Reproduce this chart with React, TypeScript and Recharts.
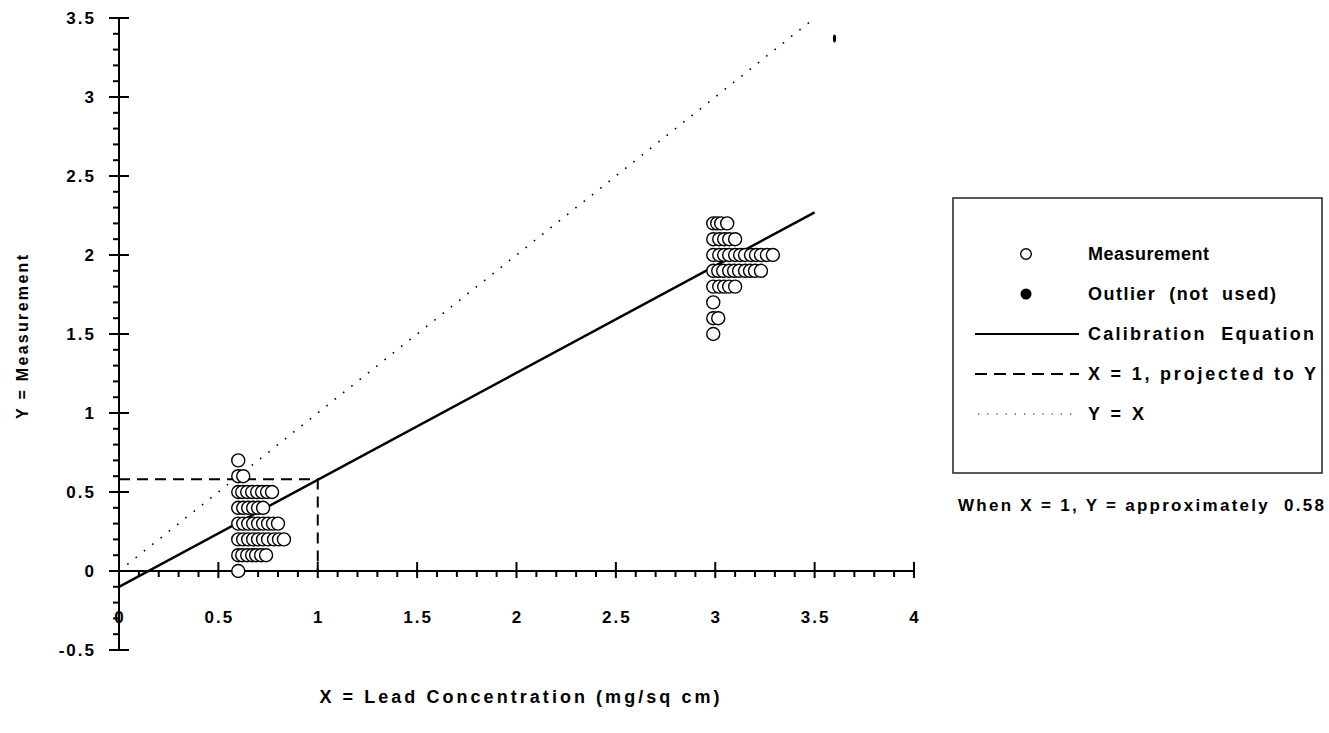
import { ComposedChart, Scatter, Line, XAxis, YAxis, ReferenceLine } from 'recharts';

const xTickLabels = [0, 0.5, 1, 1.5, 2, 2.5, 3, 3.5, 4];
const yTickLabels = [-0.5, 0, 0.5, 1, 1.5, 2, 2.5, 3, 3.5];

// measurement rows around X = 0.6 (each row is one Y level, circles read left to right)
const lowRows = [
  { y: 0, xs: [0.6] },
  { y: 0.1, xs: [0.6, 0.62, 0.645, 0.67, 0.69, 0.715, 0.74] },
  { y: 0.2, xs: [0.6, 0.625, 0.65, 0.675, 0.7, 0.725, 0.75, 0.78, 0.805, 0.83] },
  { y: 0.3, xs: [0.6, 0.625, 0.65, 0.675, 0.7, 0.725, 0.75, 0.775, 0.8] },
  { y: 0.4, xs: [0.6, 0.625, 0.65, 0.675, 0.7, 0.725] },
  { y: 0.5, xs: [0.6, 0.62, 0.645, 0.67, 0.695, 0.72, 0.745, 0.77] },
  { y: 0.6, xs: [0.6, 0.625] },
  { y: 0.7, xs: [0.6] },
];

// measurement rows around X = 3
const highRows = [
  { y: 1.5, xs: [2.99] },
  { y: 1.6, xs: [2.99, 3.015] },
  { y: 1.7, xs: [2.99] },
  { y: 1.8, xs: [2.99, 3.02, 3.045, 3.07, 3.1] },
  { y: 1.9, xs: [2.99, 3.015, 3.04, 3.07, 3.095, 3.12, 3.15, 3.175, 3.2, 3.23] },
  { y: 2.0, xs: [2.99, 3.02, 3.045, 3.07, 3.1, 3.125, 3.15, 3.18, 3.205, 3.23, 3.26, 3.29] },
  { y: 2.1, xs: [2.99, 3.02, 3.045, 3.07, 3.1] },
  { y: 2.2, xs: [2.99, 3.01, 3.03, 3.06] },
];

const outlier = [{ x: 3.6, y: 3.37 }];
const calibration = [{ x: 0, y: -0.1 }, { x: 3.5, y: 2.27 }];
const projection = [{ x: 0, y: 0.58 }, { x: 1, y: 0.58 }, { x: 1, y: 0 }];
const identity = [{ x: 0, y: 0 }, { x: 3.5, y: 3.5 }];

const measurements = [...lowRows, ...highRows].flatMap(r => r.xs.map(x => ({ x, y: r.y })));

const tenths = (from: number, to: number) => {
  const out: number[] = [];
  for (let i = from; i <= to; i++) out.push(i / 10);
  return out;
};
const yTicks = tenths(-5, 35);
const xMinor = tenths(1, 39).filter(v => Math.round(v * 10) % 5 !== 0);
const xMajor = xTickLabels.filter(v => v > 0);

const FONT = '"Liberation Sans", Arial, Helvetica, sans-serif';
const textStyle = { fontFamily: FONT, fontWeight: 700, fontSize: 17, fill: '#000' };

function YTick({ x, y, payload }: any) {
  const v = payload.value;
  const major = Math.abs(v * 2 - Math.round(v * 2)) < 1e-6;
  return (
    <g>
      <line x1={major ? x - 10 : x - 6} x2={major ? x + 10 : x} y1={y} y2={y} stroke="#000" strokeWidth={2} />
      {major && (
        <text x={x - 23} y={y} textAnchor="end" dominantBaseline="central" style={{ ...textStyle, letterSpacing: 2 }}>
          {String(v)}
        </text>
      )}
    </g>
  );
}

function XTick({ x, y, payload }: any) {
  return (
    <text x={x + 1} y={y - 33} textAnchor="middle" dominantBaseline="central" style={{ ...textStyle, letterSpacing: 2 }}>
      {String(payload.value)}
    </text>
  );
}

const OpenCircle = ({ cx, cy }: any) => <circle cx={cx} cy={cy} r={6.5} fill="#fff" stroke="#000" strokeWidth={1.4} />;
const OutlierMark = ({ cx, cy }: any) => <ellipse cx={cx} cy={cy} rx={1.6} ry={4} fill="#000" />;

const legendRows = [
  { label: 'Measurement', kind: 'open', width: 121 },
  { label: 'Outlier  (not  used)', kind: 'filled', width: 188 },
  { label: 'Calibration  Equation', kind: 'solid', width: 226 },
  { label: 'X = 1, projected to Y', kind: 'dashed', width: 228 },
  { label: 'Y = X', kind: 'dotted', width: 56 },
];

function Notes() {
  return (
    <svg width={1329} height={733} style={{ position: 'absolute', left: 0, top: 0, pointerEvents: 'none' }}>
      <rect x={953} y={198} width={369} height={275} fill="none" stroke="#222" strokeWidth={1.5} />
      {legendRows.map((r, i) => {
        const cy = 254 + i * 40;
        return (
          <g key={r.label}>
            {r.kind === 'open' && <circle cx={1026} cy={cy} r={5.3} fill="#fff" stroke="#000" strokeWidth={1.4} />}
            {r.kind === 'filled' && <circle cx={1026} cy={cy} r={5.5} fill="#000" />}
            {r.kind === 'solid' && <line x1={975} x2={1079} y1={cy} y2={cy} stroke="#000" strokeWidth={1.8} />}
            {r.kind === 'dashed' && <line x1={975} x2={1079} y1={cy} y2={cy} stroke="#000" strokeWidth={1.8} strokeDasharray="12 7" />}
            {r.kind === 'dotted' && <line x1={978} x2={1075} y1={cy} y2={cy} stroke="#000" strokeWidth={1} strokeDasharray="1.2 8" />}
            <text
              x={1088}
              y={cy}
              dominantBaseline="central"
              textLength={r.width}
              lengthAdjust="spacing"
              style={{ ...textStyle, fontSize: 18, whiteSpace: 'pre' }}
            >
              {r.label}
            </text>
          </g>
        );
      })}
      <text x={958} y={505} dominantBaseline="central" textLength={366} lengthAdjust="spacing" style={{ ...textStyle, whiteSpace: 'pre' }}>
        When X = 1, Y = approximately  0.58
      </text>
    </svg>
  );
}

export default function App() {
  return (
    <div style={{ position: 'absolute', left: 0, top: 0, width: 1329, height: 733, background: '#fff' }}>
      <ComposedChart width={1329} height={733} margin={{ top: 18, right: 415, bottom: 53, left: 19 }}>
        <XAxis
          type="number"
          dataKey="x"
          domain={[0, 4]}
          ticks={xTickLabels}
          interval={0}
          axisLine={false}
          tickLine={false}
          tickSize={0}
          tickMargin={0}
          height={30}
          tick={<XTick />}
          label={({ viewBox }: any) => (
            <text
              x={viewBox.x + viewBox.width / 2 + 3}
              y={viewBox.y + viewBox.height + 17}
              textAnchor="middle"
              dominantBaseline="central"
              textLength={400}
              lengthAdjust="spacing"
              style={{ ...textStyle, fontSize: 18 }}
            >
              X = Lead Concentration (mg/sq cm)
            </text>
          )}
        />
        <YAxis
          type="number"
          dataKey="y"
          domain={[-0.5, 3.5]}
          ticks={yTicks}
          interval={0}
          width={100}
          axisLine={{ stroke: '#000', strokeWidth: 2 }}
          tickLine={false}
          tickSize={0}
          tickMargin={0}
          tick={<YTick />}
          label={({ viewBox }: any) => (
            <text
              transform={`translate(${viewBox.x + 3},${viewBox.y + viewBox.height / 2 + 3}) rotate(-90)`}
              textAnchor="middle"
              dominantBaseline="central"
              textLength={164}
              lengthAdjust="spacing"
              style={{ ...textStyle, fontSize: 16 }}
            >
              Y = Measurement
            </text>
          )}
        />
        <ReferenceLine y={0} stroke="#000" strokeWidth={2} />
        {xMinor.map(v => (
          <ReferenceLine key={'m' + v} segment={[{ x: v, y: 0 }, { x: v, y: -0.038 }]} stroke="#000" strokeWidth={2} />
        ))}
        {xMajor.map(v => (
          <ReferenceLine key={'M' + v} segment={[{ x: v, y: 0.057 }, { x: v, y: -0.045 }]} stroke="#000" strokeWidth={2} />
        ))}
        <Scatter name="Measurement" data={measurements} dataKey="y" shape={<OpenCircle />} isAnimationActive={false} />
        <Scatter name="Outlier (not used)" data={outlier} dataKey="y" shape={<OutlierMark />} isAnimationActive={false} />
        <Line name="Y = X" data={identity} dataKey="y" stroke="#000" strokeWidth={1.6} strokeDasharray="1.6 9" dot={false} isAnimationActive={false} />
        <Line name="Calibration Equation" data={calibration} dataKey="y" stroke="#000" strokeWidth={2.5} dot={false} isAnimationActive={false} />
        <Line name="X = 1, projected to Y" data={projection} dataKey="y" stroke="#000" strokeWidth={2} strokeDasharray="11 7" dot={false} isAnimationActive={false} />
      </ComposedChart>
      <Notes />
    </div>
  );
}
